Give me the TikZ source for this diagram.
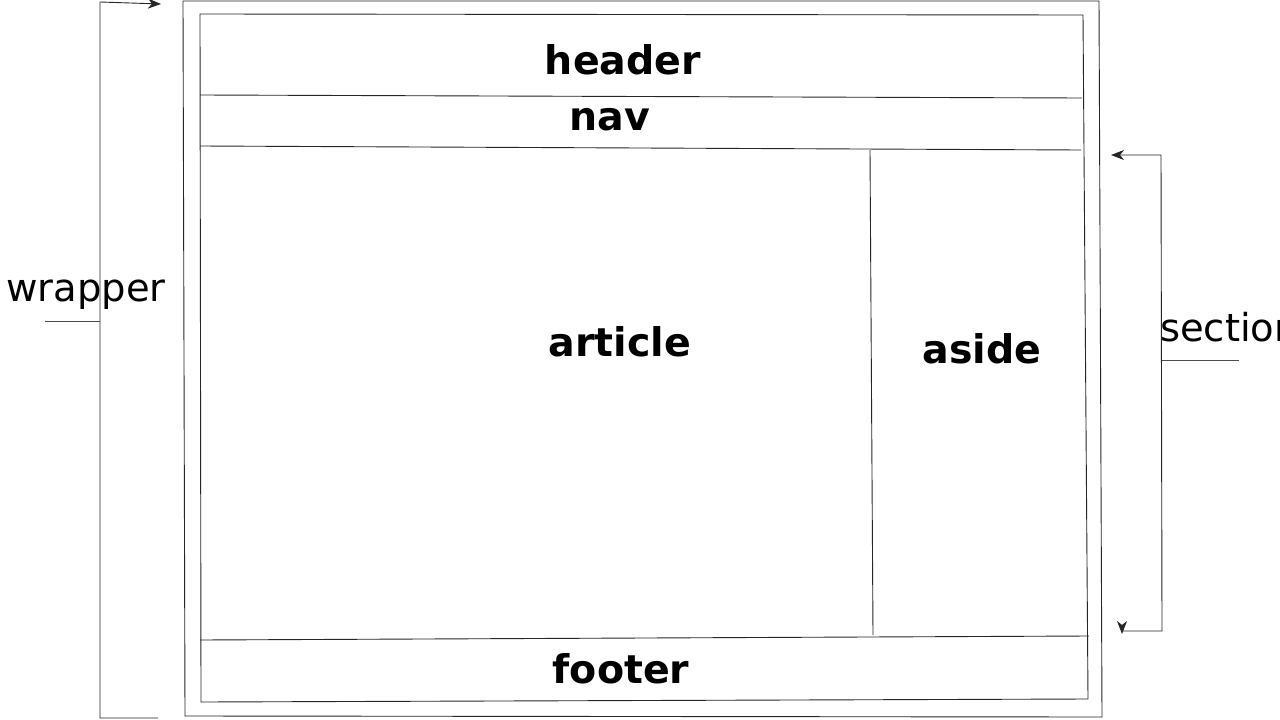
\documentclass[tikz,border=0pt]{standalone}
\usepackage{fontspec}
\setmainfont{DejaVu Sans}
\usetikzlibrary{arrows,arrows.meta}

\begin{document}
\begin{tikzpicture}[x=1pt,y=-1pt,>={Stealth[length=13pt,width=10pt,inset=4pt]},
  sketch/.style={draw=black!85,line width=0.9pt},
  tag/.style={inner sep=0pt,anchor=base,font=\fontsize{39.5}{46}\bfseries},
  side/.style={inner sep=0pt,anchor=base,font=\fontsize{38.5}{46}\selectfont}]
\clip (0,0) rectangle (1280,720);
% outer box and inner box
\coordinate (wa) at (183,1);    \coordinate (wb) at (1099,1);
\coordinate (wc) at (1102,717); \coordinate (wd) at (185,716);
\coordinate (ia) at (200,14);   \coordinate (ib) at (1083,15);
\coordinate (ic) at (1088,699); \coordinate (id) at (201,702);
\draw[sketch] (wa) -- (wb) -- (wc) -- (wd) -- cycle;
\draw[sketch] (ia) -- (ib) -- (ic) -- (id) -- cycle;
% rows and columns
\coordinate (h1) at (200,95);  \coordinate (h2) at (1082,98);
\coordinate (n1) at (200,146); \coordinate (n2) at (1081,150);
\coordinate (s1) at (870,150); \coordinate (s2) at (873,635);
\coordinate (f1) at (200,640); \coordinate (f2) at (1089,636);
\draw[sketch] (h1) -- (h2)
              (n1) -- (n2)
              (s1) -- (s2)
              (f1) -- (f2);
\node[tag] (header) at (623,74) {header};
\node[tag] (nav) at (610,130) {nav};
\node[tag] (article) at (620,356) {article};
\node[tag] (aside) at (982,363) {aside};
\node[tag] (footer) at (621,683) {footer};
% wrapper bracket
\coordinate (la) at (161,4);  \coordinate (lb) at (100,2);
\coordinate (lc) at (100,718); \coordinate (ld) at (158,718);
\draw[sketch,->] (ld) -- (lc) -- (lb) -- (la);
\node[side] (wrapper) at (86,301) {wrapper};
\coordinate (wu) at (45,321);
\draw[black!70,line width=0.8pt] (wu) -- (wu -| lb);
% section bracket
\coordinate (ra) at (1111,155); \coordinate (rb) at (1161,155);
\coordinate (rc) at (1162,631); \coordinate (rd) at (1122,631);
\coordinate (re) at (1122,634);
\draw[sketch,<->] (ra) -- (rb) -- (rc) -- (rd) -- (re);
\node[side,anchor=base west] (section) at (1160,341) {section};
\coordinate (su) at (1239,360);
\draw[black!70,line width=0.8pt] (1162,360) -- (su);
\end{tikzpicture}
\end{document}
